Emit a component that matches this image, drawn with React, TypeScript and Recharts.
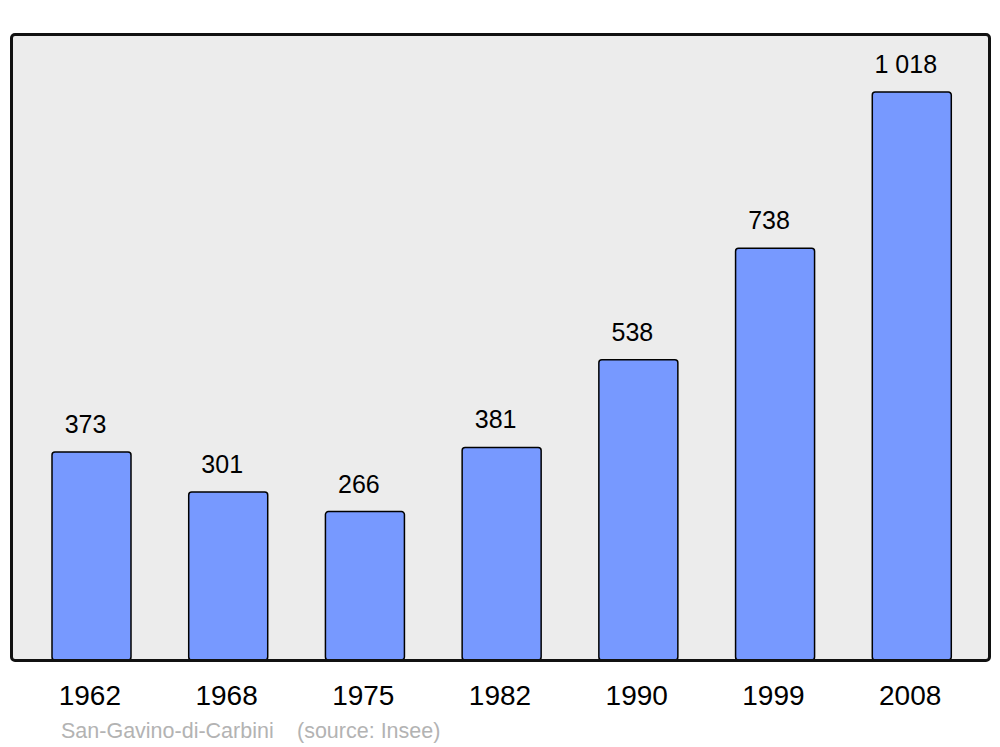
import React from "react";
import { BarChart, Bar, XAxis, YAxis, CartesianGrid, LabelList } from "recharts";

const years = ["1962", "1968", "1975", "1982", "1990", "1999", "2008"];
const population = [373, 301, 266, 381, 538, 738, 1018];
const commune = "San-Gavino-di-Carbini";
const source = "(source: Insee)";

const data = years.map((y, i) => ({ year: y, pop: population[i] }));

const fmt = (v: any) => {
  const s = String(v);
  return s.replace(/\B(?=(\d{3})+(?!\d))/g, " ");
};

const FONT = "'Liberation Sans', Arial, sans-serif";

export default function App() {
  return (
    <div style={{ position: "absolute", left: 0, top: 0, width: 1000, height: 747, background: "#fff", fontFamily: FONT }}>
      <BarChart
        width={1000}
        height={747}
        data={data}
        margin={{ top: 34, right: 11, bottom: 27, left: 11 }}
      >
        <CartesianGrid fill="#ececec" horizontal={false} vertical={false} />
        <XAxis
          dataKey="year"
          axisLine={false}
          tickLine={false}
          height={60}
          padding={{ left: 12, right: 9 }}
          tick={{ fontSize: 28, fill: "#000", fontFamily: FONT, dx: -1.5 }}
          tickMargin={19}
          interval={0}
        />
        <YAxis hide domain={[0, 1122]} />
        <Bar
          dataKey="pop"
          fill="#7799ff"
          stroke="#000"
          strokeWidth={1.5}
          radius={3}
          barSize={79}
          isAnimationActive={false}
        >
          <LabelList
            dataKey="pop"
            position="top"
            offset={19}
            formatter={fmt}
            fill="#000"
            fontSize={25}
            fontFamily={FONT}
            dx={-6}
          />
        </Bar>
      </BarChart>
      <div
        style={{
          position: "absolute",
          left: 9.5,
          top: 32.5,
          width: 981,
          height: 629,
          border: "3px solid #111",
          borderRadius: 5,
          boxSizing: "border-box",
          pointerEvents: "none",
        }}
      />
      <div style={{ position: "absolute", left: 61, top: 719, fontSize: 21.5, color: "#b3b3b3", whiteSpace: "pre", lineHeight: "24px" }}>
        {commune}
      </div>
      <div style={{ position: "absolute", left: 297, top: 719, fontSize: 21.5, color: "#b3b3b3", whiteSpace: "pre", lineHeight: "24px" }}>
        {source}
      </div>
    </div>
  );
}
